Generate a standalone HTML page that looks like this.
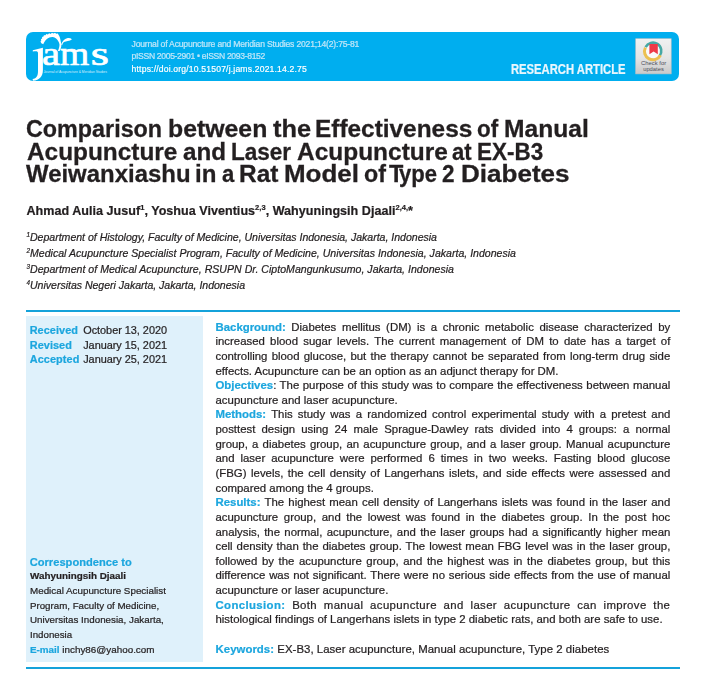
<!DOCTYPE html>
<html><head><meta charset="utf-8"><title>Paper</title><style>
html,body{margin:0;padding:0;background:#fff;}
body{width:716px;height:678px;position:relative;overflow:hidden;font-family:"Liberation Sans",sans-serif;}
.l{position:absolute;white-space:pre;line-height:20px;height:20px;transform-origin:0 50%;filter:blur(0.35px);-webkit-text-stroke:0.22px;}
.l sup{font-size:0.6em;line-height:0;vertical-align:baseline;position:relative;top:-0.68em;}
</style></head><body>
<div style="position:absolute;left:26.2px;top:31.7px;width:652.7px;height:49px;background:#00aeef;border-radius:7px;"></div>
<svg style="position:absolute;left:26px;top:31px;" width="90" height="51" viewBox="26 31 90 51">
<g fill="#fff">
<path d="M32.8 50.2 L42.9 47.8 L42.9 70 C42.9 76.2 39.6 80.4 33 80.8 L32.6 79 C36.6 78.4 38 75.8 38 71 L38 53.4 C38 51.4 36.8 51 32.8 51.6 Z"/>
<text transform="translate(42.03 65.4) scale(1.171 1)" font-family="Liberation Serif, serif" font-size="34.6" stroke="#fff" stroke-width="0.7">a</text>
<text transform="translate(59.90 65.4) scale(1.085 1)" font-family="Liberation Serif, serif" font-size="34.6" stroke="#fff" stroke-width="0.7">m</text>
<text transform="translate(90.65 65.4) scale(1.350 1)" font-family="Liberation Serif, serif" font-size="34.6" stroke="#fff" stroke-width="0.7">s</text>
<path d="M41.3 43.3 L40.5 41.6 L41.3 40.6 L40.9 39.2 L42.1 38.4 L42.1 37 L43.5 36.6 L43.9 35.2 L45.5 35.2 L46.3 33.9 L47.9 34.4 L49.1 33.2 L50.6 34 L52 32.8 L53.5 33.6 L55 32.7 L56.2 33.8 L57.8 33.4 L58.5 34.8 C59.6 36.4 60.3 38.6 60.7 41.2 C61.2 43.2 61.5 44.6 61.3 46.2 C61 47.8 60.4 49.4 59.6 51 L57.8 51 C58.8 49 59.6 46.6 59.5 44.5 C59.3 43.2 58.9 42.2 58.3 41.2 C57.7 40 57 39.1 56.1 38.4 C55.1 37.5 54 37 52.8 36.9 C51.6 36.8 50.5 37 49.4 37.5 C48.4 37.9 47.5 38.5 46.6 39.2 C45.7 40 45 41 44.4 42 C44 42.7 43.6 43.4 43.3 44.2 Z"/>
<path d="M61.2 44.6 C61.8 42.8 62.8 41.2 63.9 40.1 C65 39 66.4 38.3 67.8 38 C69.4 37.8 70.8 38.2 72 39.2 C70.8 40.2 69.4 40.8 67.8 41 C66.4 41.2 65.1 41.5 63.9 42.1 C63.1 42.8 62.5 43.9 62.1 45.3 Z"/>
</g>
<text x="43.4" y="73" fill="#fff" fill-opacity="0.85" style="font-family:'Liberation Sans',sans-serif" font-size="3.3" textLength="63.5" lengthAdjust="spacingAndGlyphs">Journal of Acupuncture &amp; Meridian Studies</text>
</svg>
<svg style="position:absolute;left:634px;top:37px;" width="40" height="40" viewBox="634 37 40 40">
<defs><linearGradient id="bg" x1="0" y1="0" x2="0" y2="1"><stop offset="0" stop-color="#f1f1f1"/><stop offset="0.55" stop-color="#e4e4e4"/><stop offset="1" stop-color="#c9c9c9"/></linearGradient></defs>
<rect x="635.7" y="38.7" width="35.5" height="35.2" fill="url(#bg)" stroke="#b9c0c4" stroke-width="0.6"/>
<circle cx="653.5" cy="50.2" r="8.2" fill="#fafafa"/>
<path d="M645.6 47.2 A8.3 8.3 0 1 1 659.6 56" fill="none" stroke="#46a8a4" stroke-width="2.6"/>
<path d="M645.4 47.6 A8.4 8.4 0 0 0 660.4 55.2" fill="none" stroke="#ecc050" stroke-width="3"/>
<path d="M649.4 44 H657.8 V54.2 L653.6 51.6 L649.4 54.2 Z" fill="#ee3a48"/>
<text x="653.6" y="65.4" text-anchor="middle" fill="#4b4e5a" font-family="Liberation Sans, sans-serif" font-size="5.1" textLength="25" lengthAdjust="spacingAndGlyphs">Check for</text>
<text x="653.5" y="70.6" text-anchor="middle" fill="#4b4e5a" font-family="Liberation Sans, sans-serif" font-size="5.1" textLength="20.6" lengthAdjust="spacingAndGlyphs">updates</text>
</svg>
<div style="position:absolute;left:26px;top:309.8px;width:653.5px;height:2.2px;background:#14a2da;"></div>
<div style="position:absolute;left:26px;top:666.5px;width:653.5px;height:2.1px;background:#14a2da;"></div>
<div style="position:absolute;left:26px;top:316px;width:177.4px;height:345.8px;background:#dff1fb;"></div>

<div class="l" style="left:131.60px;top:34.01px;font-size:8.60px;color:#bfe6f8;letter-spacing:-0.196px;">Journal of Acupuncture and Meridian Studies 2021;14(2):75-81</div>
<div class="l" style="left:131.60px;top:46.00px;font-size:8.60px;color:#bfe6f8;letter-spacing:-0.334px;">pISSN 2005-2901 • eISSN 2093-8152</div>
<div class="l" style="left:131.60px;top:59.01px;font-size:8.60px;color:#ffffff;-webkit-text-stroke:0.18px #fff;letter-spacing:0.175px;">https:<span style="color:#ffffff;">//doi.org/10.51507/j.jams.2021.14.2.75</span></div>
<div class="l" style="left:511.00px;top:60.01px;font-size:13.80px;color:#e8f6fd;font-weight:bold;transform:scaleX(0.8151);margin-left:0.00px;">RESEARCH ARTICLE</div>
<div class="l" style="left:27.10px;top:119.01px;font-size:24.80px;color:#231f20;font-weight:bold;-webkit-text-stroke:0.3px #231f20;transform:scaleX(0.9409);margin-left:-0.94px;">Comparison</div>
<div class="l" style="left:169.20px;top:119.01px;font-size:24.80px;color:#231f20;font-weight:bold;-webkit-text-stroke:0.3px #231f20;transform:scaleX(1.0014);margin-left:-1.00px;">between</div>
<div class="l" style="left:272.70px;top:119.01px;font-size:24.80px;color:#231f20;font-weight:bold;-webkit-text-stroke:0.3px #231f20;transform:scaleX(1.0246);margin-left:0.00px;">the</div>
<div class="l" style="left:315.50px;top:119.01px;font-size:24.80px;color:#231f20;font-weight:bold;-webkit-text-stroke:0.3px #231f20;transform:scaleX(0.9836);margin-left:-0.98px;">Effectiveness</div>
<div class="l" style="left:476.80px;top:119.01px;font-size:24.80px;color:#231f20;font-weight:bold;-webkit-text-stroke:0.3px #231f20;transform:scaleX(0.9028);margin-left:0.00px;">of</div>
<div class="l" style="left:504.50px;top:119.01px;font-size:24.80px;color:#231f20;font-weight:bold;-webkit-text-stroke:0.3px #231f20;transform:scaleX(0.9924);margin-left:-0.99px;">Manual</div>
<div class="l" style="left:27.10px;top:142.01px;font-size:24.80px;color:#231f20;font-weight:bold;-webkit-text-stroke:0.3px #231f20;transform:scaleX(0.9834);margin-left:0.00px;">Acupuncture</div>
<div class="l" style="left:182.60px;top:142.01px;font-size:24.80px;color:#231f20;font-weight:bold;-webkit-text-stroke:0.3px #231f20;transform:scaleX(0.9758);margin-left:0.00px;">and</div>
<div class="l" style="left:231.60px;top:142.01px;font-size:24.80px;color:#231f20;font-weight:bold;-webkit-text-stroke:0.3px #231f20;transform:scaleX(0.9081);margin-left:-0.91px;">Laser</div>
<div class="l" style="left:296.50px;top:142.01px;font-size:24.80px;color:#231f20;font-weight:bold;-webkit-text-stroke:0.3px #231f20;transform:scaleX(0.9866);margin-left:0.00px;">Acupuncture</div>
<div class="l" style="left:452.90px;top:142.01px;font-size:24.80px;color:#231f20;font-weight:bold;-webkit-text-stroke:0.3px #231f20;transform:scaleX(0.8900);margin-left:-0.65px;">at</div>
<div class="l" style="left:477.70px;top:142.01px;font-size:24.80px;color:#231f20;font-weight:bold;-webkit-text-stroke:0.3px #231f20;transform:scaleX(0.9053);margin-left:-0.91px;">EX-B3</div>
<div class="l" style="left:26.30px;top:164.01px;font-size:24.80px;color:#231f20;font-weight:bold;-webkit-text-stroke:0.3px #231f20;transform:scaleX(0.9653);margin-left:0.00px;">Weiwanxiashu</div>
<div class="l" style="left:196.40px;top:164.01px;font-size:24.80px;color:#231f20;font-weight:bold;-webkit-text-stroke:0.3px #231f20;transform:scaleX(0.9704);margin-left:-0.97px;">in</div>
<div class="l" style="left:222.00px;top:164.01px;font-size:24.80px;color:#231f20;font-weight:bold;-webkit-text-stroke:0.3px #231f20;transform:scaleX(0.8900);margin-left:-0.38px;">a</div>
<div class="l" style="left:240.00px;top:164.01px;font-size:24.80px;color:#231f20;font-weight:bold;-webkit-text-stroke:0.3px #231f20;transform:scaleX(0.9845);margin-left:-0.98px;">Rat</div>
<div class="l" style="left:284.80px;top:164.01px;font-size:24.80px;color:#231f20;font-weight:bold;-webkit-text-stroke:0.3px #231f20;transform:scaleX(1.0467);margin-left:-1.05px;">Model</div>
<div class="l" style="left:364.40px;top:164.01px;font-size:24.80px;color:#231f20;font-weight:bold;-webkit-text-stroke:0.3px #231f20;transform:scaleX(0.9359);margin-left:0.00px;">of</div>
<div class="l" style="left:388.60px;top:164.01px;font-size:24.80px;color:#231f20;font-weight:bold;-webkit-text-stroke:0.3px #231f20;transform:scaleX(0.9467);margin-left:0.00px;">T</div>
<div class="l" style="left:401.10px;top:164.01px;font-size:24.80px;color:#231f20;font-weight:bold;-webkit-text-stroke:0.3px #231f20;transform:scaleX(0.8900);margin-left:-1.86px;">ype</div>
<div class="l" style="left:441.60px;top:164.01px;font-size:24.80px;color:#231f20;font-weight:bold;-webkit-text-stroke:0.3px #231f20;transform:scaleX(0.9077);margin-left:0.00px;">2</div>
<div class="l" style="left:461.30px;top:164.01px;font-size:24.80px;color:#231f20;font-weight:bold;-webkit-text-stroke:0.3px #231f20;transform:scaleX(1.0500);margin-left:-0.13px;">Diabetes</div>
<div class="l" style="left:26.50px;top:201.01px;font-size:12.55px;color:#231f20;font-weight:bold;letter-spacing:0.029px;">Ahmad Aulia Jusuf<sup>1</sup>, Yoshua Viventius<sup>2,3</sup>, Wahyuningsih Djaali<sup>2,4,</sup>*</div>
<div class="l" style="left:26.50px;top:227.02px;font-size:10.55px;color:#231f20;font-style:italic;letter-spacing:-0.010px;"><sup>1</sup>Department of Histology, Faculty of Medicine, Universitas Indonesia, Jakarta, Indonesia</div>
<div class="l" style="left:26.50px;top:243.02px;font-size:10.55px;color:#231f20;font-style:italic;letter-spacing:0.009px;"><sup>2</sup>Medical Acupuncture Specialist Program, Faculty of Medicine, Universitas Indonesia, Jakarta, Indonesia</div>
<div class="l" style="left:26.50px;top:259.02px;font-size:10.55px;color:#231f20;font-style:italic;letter-spacing:0.025px;"><sup>3</sup>Department of Medical Acupuncture, RSUPN Dr. CiptoMangunkusumo, Jakarta, Indonesia</div>
<div class="l" style="left:26.50px;top:275.02px;font-size:10.55px;color:#231f20;font-style:italic;letter-spacing:-0.016px;"><sup>4</sup>Universitas Negeri Jakarta, Jakarta, Indonesia</div>
<div class="l" style="left:29.70px;top:320.00px;font-size:10.90px;color:#231f20;letter-spacing:0.059px;"><span style="color:#1ca6de;font-weight:bold;">Received</span></div>
<div class="l" style="left:83.20px;top:320.00px;font-size:10.90px;color:#231f20;letter-spacing:-0.023px;">October 13, 2020</div>
<div class="l" style="left:29.70px;top:335.02px;font-size:10.90px;color:#231f20;letter-spacing:0.074px;"><span style="color:#1ca6de;font-weight:bold;">Revised</span></div>
<div class="l" style="left:83.20px;top:335.02px;font-size:10.90px;color:#231f20;letter-spacing:-0.023px;">January 15, 2021</div>
<div class="l" style="left:29.70px;top:349.02px;font-size:10.90px;color:#231f20;letter-spacing:0.096px;"><span style="color:#1ca6de;font-weight:bold;">Accepted</span></div>
<div class="l" style="left:83.20px;top:349.02px;font-size:10.90px;color:#231f20;letter-spacing:-0.023px;">January 25, 2021</div>
<div class="l" style="left:29.70px;top:552.01px;font-size:11.10px;color:#231f20;letter-spacing:0.022px;"><span style="color:#1ca6de;font-weight:bold;">Correspondence to</span></div>
<div class="l" style="left:29.70px;top:566.01px;font-size:9.95px;color:#231f20;font-weight:bold;transform:scaleX(0.9906);">Wahyuningsih Djaali</div>
<div class="l" style="left:29.70px;top:581.01px;font-size:9.90px;color:#231f20;transform:scaleX(0.9942);">Medical Acupuncture Specialist</div>
<div class="l" style="left:29.70px;top:596.01px;font-size:9.90px;color:#231f20;transform:scaleX(0.9842);">Program, Faculty of Medicine,</div>
<div class="l" style="left:29.70px;top:610.01px;font-size:9.90px;color:#231f20;transform:scaleX(0.9909);">Universitas Indonesia, Jakarta,</div>
<div class="l" style="left:29.70px;top:625.00px;font-size:9.90px;color:#231f20;transform:scaleX(0.9830);">Indonesia</div>
<div class="l" style="left:29.70px;top:640.00px;font-size:9.90px;color:#231f20;transform:scaleX(0.9979);"><span style="color:#1ca6de;font-weight:bold;">E-mail</span> inchy86@yahoo.com</div>
<div class="l" style="left:215.50px;top:317.01px;font-size:11.40px;color:#231f20;word-spacing:2.433px;"><span style="color:#1ca6de;font-weight:bold;">Background:</span> Diabetes mellitus (DM) is a chronic metabolic disease characterized by</div>
<div class="l" style="left:215.50px;top:331.01px;font-size:11.40px;color:#231f20;word-spacing:2.063px;">increased blood sugar levels. The current management of DM to date has a target of</div>
<div class="l" style="left:215.50px;top:346.01px;font-size:11.40px;color:#231f20;word-spacing:1.068px;">controlling blood glucose, but the therapy cannot be separated from long-term drug side</div>
<div class="l" style="left:215.50px;top:361.01px;font-size:11.40px;color:#231f20;">effects. Acupuncture can be an option as an adjunct therapy for DM.</div>
<div class="l" style="left:215.50px;top:375.01px;font-size:11.40px;color:#231f20;word-spacing:0.365px;"><span style="color:#1ca6de;font-weight:bold;">Objectives</span>: The purpose of this study was to compare the effectiveness between manual</div>
<div class="l" style="left:215.50px;top:390.01px;font-size:11.40px;color:#231f20;letter-spacing:0.016px;">acupuncture and laser acupuncture.</div>
<div class="l" style="left:215.50px;top:404.01px;font-size:11.40px;color:#231f20;word-spacing:2.042px;"><span style="color:#1ca6de;font-weight:bold;">Methods:</span> This study was a randomized control experimental study with a pretest and</div>
<div class="l" style="left:215.50px;top:419.00px;font-size:11.40px;color:#231f20;word-spacing:2.969px;">posttest design using 24 male Sprague-Dawley rats divided into 4 groups: a normal</div>
<div class="l" style="left:215.50px;top:434.00px;font-size:11.40px;color:#231f20;word-spacing:1.065px;">group, a diabetes group, an acupuncture group, and a laser group. Manual acupuncture</div>
<div class="l" style="left:215.50px;top:448.00px;font-size:11.40px;color:#231f20;word-spacing:2.813px;">and laser acupuncture were performed 6 times in two weeks. Fasting blood glucose</div>
<div class="l" style="left:215.50px;top:463.00px;font-size:11.40px;color:#231f20;word-spacing:1.346px;">(FBG) levels, the cell density of Langerhans islets, and side effects were assessed and</div>
<div class="l" style="left:215.50px;top:478.00px;font-size:11.40px;color:#231f20;">compared among the 4 groups.</div>
<div class="l" style="left:215.50px;top:492.00px;font-size:11.40px;color:#231f20;word-spacing:1.066px;"><span style="color:#1ca6de;font-weight:bold;">Results:</span> The highest mean cell density of Langerhans islets was found in the laser and</div>
<div class="l" style="left:215.50px;top:507.00px;font-size:11.40px;color:#231f20;word-spacing:2.451px;">acupuncture group, and the lowest was found in the diabetes group. In the post hoc</div>
<div class="l" style="left:215.50px;top:522.00px;font-size:11.40px;color:#231f20;word-spacing:1.175px;">analysis, the normal, acupuncture, and the laser groups had a significantly higher mean</div>
<div class="l" style="left:215.50px;top:536.00px;font-size:11.40px;color:#231f20;word-spacing:0.786px;">cell density than the diabetes group. The lowest mean FBG level was in the laser group,</div>
<div class="l" style="left:215.50px;top:551.01px;font-size:11.40px;color:#231f20;word-spacing:1.457px;">followed by the acupuncture group, and the highest was in the diabetes group, but this</div>
<div class="l" style="left:215.50px;top:565.01px;font-size:11.40px;color:#231f20;word-spacing:0.646px;">difference was not significant. There were no serious side effects from the use of manual</div>
<div class="l" style="left:215.50px;top:580.01px;font-size:11.40px;color:#231f20;">acupuncture or laser acupuncture.</div>
<div class="l" style="left:215.50px;top:595.01px;font-size:11.40px;color:#231f20;letter-spacing:0.37px;word-spacing:3.210px;"><span style="color:#1ca6de;font-weight:bold;">Conclusion:</span> Both manual acupuncture and laser acupuncture can improve the</div>
<div class="l" style="left:215.50px;top:609.01px;font-size:11.40px;color:#231f20;">histological findings of Langerhans islets in type 2 diabetic rats, and both are safe to use.</div>
<div class="l" style="left:215.50px;top:639.00px;font-size:11.40px;color:#231f20;letter-spacing:0.037px;"><span style="color:#1ca6de;font-weight:bold;">Keywords:</span> EX-B3, Laser acupuncture, Manual acupuncture, Type 2 diabetes</div>
</body></html>
